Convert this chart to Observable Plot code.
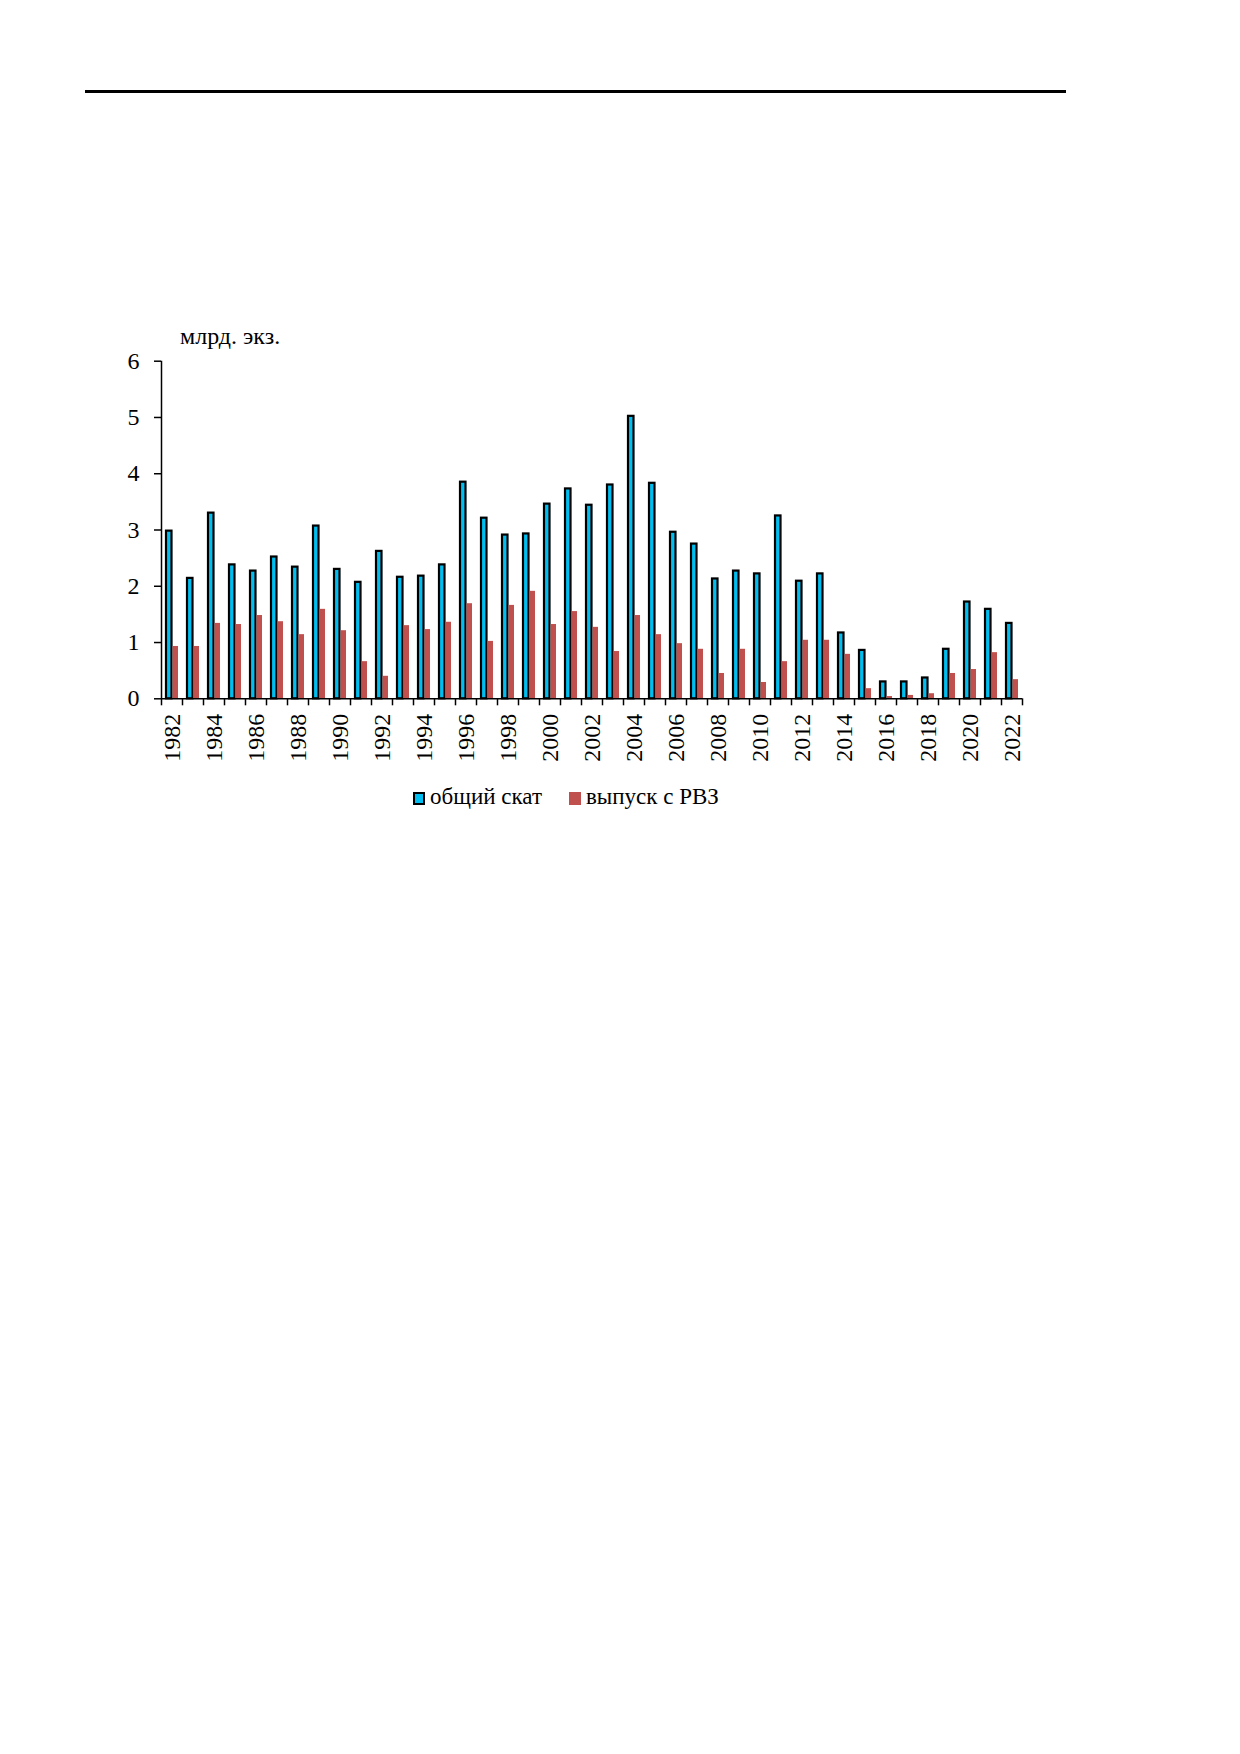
<!DOCTYPE html>
<html>
<head>
<meta charset="utf-8">
<script src="https://cdn.jsdelivr.net/npm/d3@7"></script>
<script src="https://cdn.jsdelivr.net/npm/@observablehq/plot@0.6"></script>
<style>
  html, body { margin: 0; padding: 0; background: #fff; }
  body { position: relative; width: 1240px; height: 1754px; font-family: "Liberation Serif", "Times New Roman", serif; color: #000; }
  #rule { position: absolute; left: 85px; top: 90px; width: 981px; height: 3px; background: #000; }
  #unit { position: absolute; left: 180px; top: 322px; font-size: 24px; line-height: 28px; }
  #chart { position: absolute; left: 0; top: 300px; }
  #chart svg, #chart svg text { font-family: "Liberation Serif", "Times New Roman", serif !important; }
  #legend { position: absolute; top: 785px; left: 413px; font-size: 23px; line-height: 24px; white-space: nowrap; }
  #legend span.item { display: inline-block; margin-right: 27px; }
  #legend span.sw { display: inline-block; width: 12px; height: 13px; margin-right: 5px; vertical-align: -1px; box-sizing: border-box; }
</style>
</head>
<body>
<div id="rule"></div>
<div id="unit">млрд. экз.</div>
<div id="chart"></div>
<div id="legend"></div>
<script>
const years = [1982,1983,1984,1985,1986,1987,1988,1989,1990,1991,1992,1993,1994,1995,1996,1997,1998,1999,2000,2001,2002,2003,2004,2005,2006,2007,2008,2009,2010,2011,2012,2013,2014,2015,2016,2017,2018,2019,2020,2021,2022];
const totalRelease = [2.98,2.14,3.30,2.38,2.27,2.52,2.34,3.07,2.30,2.07,2.62,2.16,2.18,2.38,3.85,3.21,2.91,2.93,3.46,3.73,3.44,3.80,5.02,3.83,2.96,2.75,2.13,2.27,2.22,3.25,2.09,2.22,1.17,0.86,0.30,0.30,0.37,0.88,1.72,1.59,1.34];
const hatcheryRelease = [0.93,0.93,1.34,1.32,1.48,1.37,1.14,1.59,1.21,0.66,0.40,1.30,1.23,1.36,1.69,1.02,1.66,1.91,1.32,1.55,1.27,0.84,1.48,1.14,0.98,0.88,0.45,0.88,0.29,0.66,1.04,1.04,0.79,0.18,0.04,0.06,0.09,0.45,0.52,0.82,0.34];
const seriesNames = ["общий скат", "выпуск с РВЗ"];
const seriesColors = ["#00BFF0", "#C0504D"];
const yTicks = [0,1,2,3,4,5,6];
const labelYears = [1982,1984,1986,1988,1990,1992,1994,1996,1998,2000,2002,2004,2006,2008,2010,2012,2014,2016,2018,2020,2022];

const data = years.map((year, i) => ({year, total: totalRelease[i], rvz: hatcheryRelease[i]}));
const boundaries = [years[0] - 0.5, ...years.map(y => y + 0.5)];

const chart = Plot.plot({
  width: 1240,
  height: 480,
  marginLeft: 161,
  marginRight: 218,
  marginTop: 60.7,
  marginBottom: 81.7,
  style: {fontFamily: "'Liberation Serif', 'Times New Roman', serif", fontSize: "24px", color: "#000", background: "transparent"},
  x: {domain: [years[0] - 0.5, years[years.length - 1] + 0.5]},
  y: {domain: [0, 6]},
  marks: [
    Plot.rectY(data, {x1: d => d.year - 0.5, x2: d => d.year + 0.5, y: "total", fill: seriesColors[0], stroke: "#000", strokeWidth: 2.2, insetLeft: 5, insetRight: 10.5}),
    Plot.rectY(data, {x1: d => d.year - 0.5, x2: d => d.year + 0.5, y: "rvz", fill: seriesColors[1], insetLeft: 11.6, insetRight: 4}),
    Plot.ruleY([0], {stroke: "#000", strokeWidth: 1.5}),
    Plot.ruleX([boundaries[0]], {stroke: "#000", strokeWidth: 1.5}),
    Plot.axisY({ticks: yTicks, tickSize: 7, tickPadding: 15, strokeWidth: 1.5, fontSize: 24, label: null, tickFormat: d => String(d)}),
    Plot.axisX({ticks: boundaries, tickSize: 7, tickFormat: () => "", strokeWidth: 1.5, label: null}),
    Plot.axisX({ticks: labelYears, tickSize: 0, tickPadding: 15, rotate: -90, textAnchor: "end", lineAnchor: "middle", fontSize: 24, label: null, tickFormat: d => String(d)})
  ]
});
document.getElementById("chart").appendChild(chart);

const legend = document.getElementById("legend");
seriesNames.forEach((name, i) => {
  const item = document.createElement("span");
  item.className = "item";
  const sw = document.createElement("span");
  sw.className = "sw";
  sw.style.background = seriesColors[i];
  if (i === 0) sw.style.border = "2px solid #000";
  item.appendChild(sw);
  item.appendChild(document.createTextNode(name));
  legend.appendChild(item);
});
</script>
</body>
</html>
